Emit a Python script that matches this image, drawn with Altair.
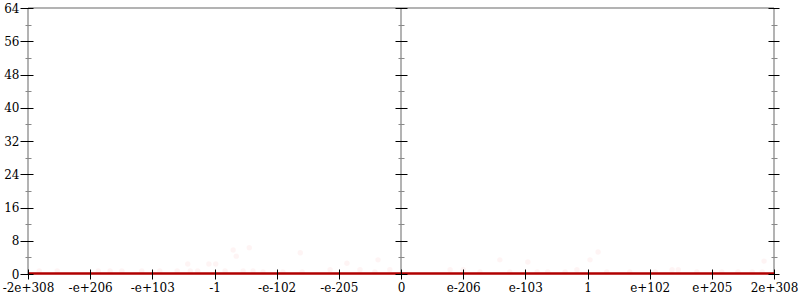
import altair as alt
import pandas as pd

# ---- data ----
x_ticks = [-6, -5, -4, -3, -2, -1, 0, 1, 2, 3, 4, 5, 6]
x_labels = ['-2e+308', '-e+206', '-e+103', '-1', '-e-102', '-e-205', '0',
            'e-206', 'e-103', '1', 'e+102', 'e+205', '2e+308']
y_major = [0, 8, 16, 24, 32, 40, 48, 56, 64]
y_minor = [4, 12, 20, 28, 36, 44, 52, 60]

line_x = [-6, -5, -4, -3, -2, -1, 0, 1, 2, 3, 4, 5, 6]
line_y = [0.12, 0.12, 0.13, 0.12, 0.14, 0.13, 0.12, 0.12, 0.13, 0.12, 0.12, 0.12, 0.12]

pt_x = [-5.82, -5.53, -4.87, -4.68, -4.49, -4.17, -3.88, -3.60, -3.43, -3.39,
        -3.27, -3.09, -2.98, -2.83, -2.70, -2.65, -2.44, -2.54, -2.38, -2.22,
        -1.90, -1.62, -1.59, -1.14, -0.87, -0.66, -0.42, -0.37, -0.18, 0.79,
        1.00, 1.27, 1.59, 1.75, 2.04, 2.19, 2.36, 2.64, 2.83, 3.04,
        3.17, 3.31, 3.68, 4.09, 4.36, 4.46, 4.76, 5.16, 5.42, 5.65,
        5.81, 5.84]
pt_y = [0.7, 0.7, 0.7, 0.7, 0.7, 0.7, 0.7, 0.7, 2.4, 0.7,
        0.7, 2.4, 2.4, 0.7, 5.8, 4.3, 6.3, 0.7, 0.7, 0.5,
        0.5, 5.1, 0.5, 1.0, 2.6, 1.0, 0.5, 3.4, 1.0, 1.0,
        1.0, 0.5, 3.4, 0.5, 2.9, 0.5, 0.5, 0.5, 1.0, 3.4,
        5.3, 0.5, 0.5, 0.5, 1.0, 1.0, 0.5, 0.5, 0.5, 0.5,
        0.5, 3.1]

v_rules = [-6, 0, 6]
h_rules = [64]

FONT = "DejaVu Serif"
GRAY = "#b3b3b3"

xs = alt.Scale(domain=[-6, 6], nice=False, zero=False)
ys = alt.Scale(domain=[0, 64], nice=False, zero=False)

label_expr = "split('" + ",".join(x_labels) + "', ',')[datum.value + 6]"

line_df = pd.DataFrame({"x": line_x, "y": line_y})
pt_df = pd.DataFrame({"x": pt_x, "y": pt_y})
vr_df = pd.DataFrame({"x": v_rules})
hr_df = pd.DataFrame({"y": h_rules})
maj_df = pd.DataFrame({"v": y_major})
min_df = pd.DataFrame({"v": y_minor})

vrules = alt.Chart(vr_df).mark_rule(color=GRAY, strokeWidth=2).encode(
    x=alt.X("x:Q", scale=xs, axis=None),
)
hrules = alt.Chart(hr_df).mark_rule(color=GRAY, strokeWidth=2).encode(
    y=alt.Y("y:Q", scale=ys, axis=None),
)

points = alt.Chart(pt_df).mark_circle(color="#dd0000", opacity=0.045, size=30).encode(
    x=alt.X("x:Q", scale=xs, axis=None),
    y=alt.Y("y:Q", scale=ys, axis=None),
)

line = alt.Chart(line_df).mark_line(color="#b00000", strokeWidth=2.5).encode(
    x=alt.X("x:Q", scale=xs, axis=alt.Axis(
        orient="bottom", values=x_ticks, labelExpr=label_expr, domain=False,
        grid=False, title=None, tickColor="#000", tickSize=10, offset=-5,
        labelPadding=3, labelFont=FONT, labelFontSize=12, labelColor="#000",
        labelFlush=False, labelOverlap=False, labelAlign="center", zindex=1)),
    y=alt.Y("y:Q", scale=ys, axis=alt.Axis(
        orient="left", values=y_major, domain=False, grid=False, title=None,
        tickColor="#000", tickSize=13, offset=-5, labelPadding=1,
        labelFont=FONT, labelFontSize=12, labelColor="#000", zindex=1)),
)


def tick_axis(df, values, orient, offset, size, color):
    return alt.Chart(df).mark_point(opacity=0).encode(
        y=alt.Y("v:Q", scale=ys, axis=alt.Axis(
            orient=orient, values=values, domain=False, grid=False, title=None,
            labels=False, tickColor=color, tickSize=size, offset=offset,
            zindex=1)),
    )


left_minor = tick_axis(min_df, y_minor, "left", -3, 6, "#888")
mid_major = tick_axis(maj_df, y_major, "left", -379, 12, "#000")
mid_minor = tick_axis(min_df, y_minor, "left", -376, 6, "#888")
right_major = tick_axis(maj_df, y_major, "right", -6, 11, "#000")
right_minor = tick_axis(min_df, y_minor, "right", -3, 6, "#888")

chart = alt.layer(
    vrules, hrules, points, line,
    left_minor, mid_major, mid_minor, right_major, right_minor,
).resolve_axis(x="independent", y="independent").properties(
    width=746, height=266,
    autosize=alt.AutoSizeParams(type="none"),
    padding={"left": 28, "top": 8, "right": 26, "bottom": 26},
).configure_view(stroke=None)

chart.save("out.html", embed_options={"renderer": "svg", "actions": False})
